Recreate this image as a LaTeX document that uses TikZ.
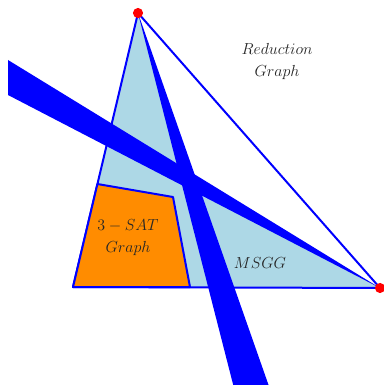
\documentclass[tikz,border=0pt]{standalone}
\usepackage{amsmath}
\definecolor{lblue}{RGB}{173,216,230}
\definecolor{dorange}{RGB}{255,140,0}
\tikzset{
  edgeline/.style={draw=blue, line width=1.5pt, line join=round},
  band/.style={fill=blue},
  vertexdot/.style={fill=red},
  lbl/.style={font=\fontsize{13}{16.5}\selectfont, text=black!85, align=center, inner sep=0pt}
}
\begin{document}
\begin{tikzpicture}[x=0.75pt,y=-0.75pt]
\useasboundingbox (0,0) rectangle (384,385);
\clip (0,0) rectangle (384,385);
\coordinate (A) at (138,13);
\coordinate (B) at (380,288);
\coordinate (C) at (73,287);
\coordinate (X) at (188.4,179.6);
\coordinate (O1) at (97.4,184);
\coordinate (O2) at (173,197);
\coordinate (O3) at (190,287);
\coordinate (S1) at (235,392);
\coordinate (S2) at (271,392);
\coordinate (D1) at (8,60);
\coordinate (D2) at (8,95);
\fill[lblue] (A)--(C)--(B)--(X)--cycle;
\draw[edgeline] (A)--(B)--(C)--cycle;
\filldraw[edgeline, fill=dorange] (C)--(O1)--(O2)--(O3)--cycle;
\fill[band] (A)--(S1)--(S2)--cycle;
\fill[band] (B)--(D1)--(D2)--cycle;
\fill[vertexdot] (A) circle (3.8pt);
\fill[vertexdot] (B) circle (3.8pt);
\node[lbl] (red) at (277,61) {$Reduction$\\$Graph$};
\node[lbl] (sat) at (128,238) {$3-SAT$\\$Graph$};
\node[lbl] (msgg) at (260,263) {$MSGG$};
\end{tikzpicture}
\end{document}
